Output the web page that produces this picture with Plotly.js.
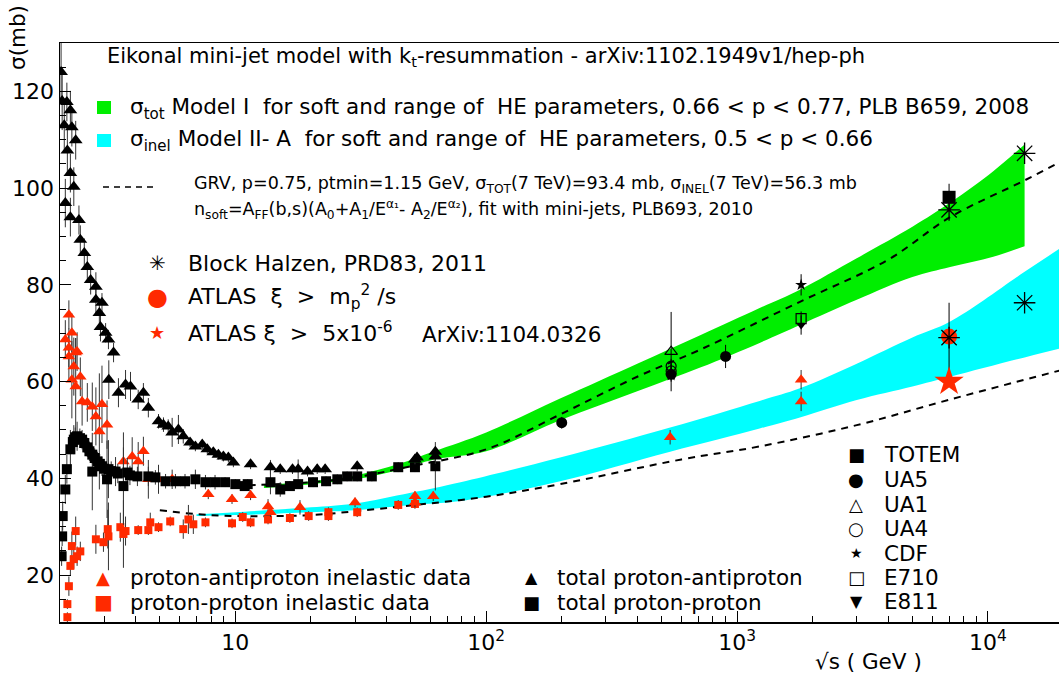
<!DOCTYPE html>
<html>
<head>
<meta charset="utf-8">
<script src="https://cdn.plot.ly/plotly-3.0.1.min.js"></script>
<style>html,body{margin:0;padding:0;background:#fff;}#chart{width:1059px;height:675px;}</style>
</head>
<body>
<div id="chart"></div>
<script>
// ---------- data (sqrt(s) in GeV, sigma in mb) ----------
// model bands
const greenX     = [13, 20, 30, 45, 62, 100, 197, 400, 713, 1230, 1780, 3000, 5000, 7070, 10500, 14000];
const greenLow   = [38.0, 38.8, 39.8, 41.8, 43.9, 45.6, 52.0, 58.0, 62.9, 68.0, 71.7, 76.9, 81.6, 83.7, 85.8, 88.0];
const greenHigh  = [38.6, 39.4, 40.6, 43.0, 45.6, 49.5, 56.5, 63.7, 69.6, 75.2, 79.0, 85.5, 92.0, 97.0, 103.5, 109.0];
const cyanX      = [7, 10, 20, 30, 50, 79, 197, 541, 1230, 1780, 3000, 5000, 7070, 14000, 20000];
const cyanLow    = [32.2, 32.4, 33.0, 33.4, 34.5, 35.3, 39.4, 45.5, 50.3, 52.6, 56.2, 59.0, 61.0, 65.0, 67.0];
const cyanHigh   = [32.6, 33.0, 34.0, 34.8, 37.0, 39.2, 44.3, 50.5, 56.0, 58.6, 63.7, 69.1, 72.4, 82.7, 88.0];
// GRV curves
const grvTotX    = [10, 20, 30, 50, 100, 197, 400, 713, 1780, 4000, 7070, 14000, 20000];
const grvTotY    = [38.5, 39.2, 40.2, 42.5, 46.0, 53.2, 61.0, 66.6, 76.5, 85.2, 94.0, 101.6, 105.8];
const grvInelX   = [5, 7, 10, 20, 30, 50, 100, 197, 600, 1230, 3000, 7070, 20000];
const grvInelY   = [33.4, 32.6, 32.2, 32.4, 33.2, 34.4, 36.2, 38.8, 43.9, 46.6, 51.0, 56.3, 62.5];

// [sqrt(s), sigma, error]
const pbarTotal = [
 [2.02,124,6],[2.04,118,6],[2.08,113,5],[2.1,96.9,5],[2.13,117.8,4],[2.14,107.8,5],[2.2,116.1,4],
 [2.2,103.1,4],[2.2,94.0,4],[2.23,112.6,4],[2.27,100.3,4],[2.31,109.9,4],[2.38,93.4,3],[2.41,89.3,3],
 [2.5,86.6,3],[2.57,83.7,3],[2.65,81.0,3],[2.78,79.6,3],[2.78,76.9,3],[2.87,74.2,3],[2.9,71.3,3],
 [2.94,76.3,2],[3.04,70.1,2],[3.12,68.7,2],[3.13,60.4,4],[3.27,66.0,2],[3.42,57.7,3],[3.65,59.4,3],
 [3.82,59.0,3],[4.1,56.3,2],[4.3,57.7,2],[4.5,54.6,2],[4.94,51.8,1.5],[5.17,51.1,1.5],[5.4,50.7,1.5],
 [5.6,49.5,3],[5.93,50.1,3],[6.2,48.7,1.5],[6.6,47.4,1],[6.93,46.6,1],[7.38,47.0,1],[7.73,46.0,1],
 [8.17,45.4,1],[8.56,44.9,1],[8.96,44.5,1],[9.38,44.3,1],[9.82,43.3,1],[11.5,42.9,1],[13.8,42.3,1.5],
 [15.1,41.9,1],[16.9,41.9,1],[17.8,41.9,2],[19.4,41.4,1],[21.2,41.9,1],[22.8,41.9,1],[30.6,42.5,1],
 [52,43.9,1],[53,44.3,1],[62.7,44.5,1.5],[62.7,45.5,1]
];
const ppTotal = [
 [2.03,23.9,2],[2.04,28.0,2],[2.05,32.2,3],[2.1,37.7,3],[2.13,41.9,3],[2.2,46.0,4],[2.25,47.5,2],
 [2.27,48.0,3],[2.3,48.5,2],[2.34,48.7,3],[2.4,48.3,2],[2.45,48.0,2],[2.5,47.3,2],[2.57,46.4,2],
 [2.62,45.6,2],[2.69,44.9,2],[2.75,44.2,2],[2.82,43.5,2],[2.88,43.0,2],[2.94,42.5,2],[3.0,42.0,2],
 [2.69,41.4,8],[3.12,41.9,6],[3.08,39.8,8],[3.2,41.5,2],[3.33,41.4,3],[3.4,41.0,2],[3.58,38.4,8],
 [3.71,41.2,3],[3.8,40.6,2],[4.07,40.4,2],[4.5,40.4,2],[4.8,40.2,1.5],[5.27,39.4,1.5],[5.77,39.4,1.5],
 [6.3,39.4,1.5],[6.93,39.8,2],[7.6,39.2,1.5],[8.3,39.2,1.5],[9.1,39.2,1],[10,38.8,1],[10.9,38.4,1],
 [11.2,38.8,1],[13.8,39.2,2.5],[15.1,37.7,1.5],[16.5,38.4,1],[17.8,38.8,1],[20.4,39.2,1],[23,39.4,1],
 [25.5,39.8,1],[27.9,40.4,1],[30.6,40.4,1],[35,40.4,1],[44.6,42.3,1],[52,42.3,1],[62.7,42.5,5]
];
const pbarInel = [
 [2.17,73.8,3],[2.1,68.7,4],[2.23,70.1,4],[2.17,67.0,4],[2.34,66.2,4],[2.31,66.0,3],[2.17,65.2,5],
 [2.27,63.1,6],[2.23,60.4,8],[2.41,61.0,4],[2.31,59.0,10],[2.45,55.9,5],[2.57,55.7,4],[2.69,54.8,5],
 [2.78,52.8,6],[2.94,55.3,8],[3.08,51.1,5],[2.87,49.7,12],[3.58,43.5,6],[3.88,44.5,4],[4.1,43.5,4],
 [4.3,45.6,3],[4.5,39.8,4],[4.94,39.8,3],[5.6,39.8,2],[7.8,36.7,1],[9.7,35.7,1],[11.5,36.5,1],
 [13.5,34.2,1.5],[13.8,33.0,1],[18.1,34.0,1.5],[30,35.0,1],[52,36.3,1],[52,35.0,1],[61.5,36.3,1],
 [541,48.5,1.5],[1800,60.4,2],[1800,55.9,2]
];
const ppInel = [
 [2.14,11.3,1],[2.14,14.0,1],[2.17,17.7,2],[2.2,21.9,2],[2.23,26.0,3],[2.31,29.1,3],[2.27,23.3,2],
 [2.34,23.9,2],[2.41,24.9,2],[2.78,27.4,3],[2.98,26.8,2],[3.1,29.5,4],[3.12,28.0,7],[3.48,29.9,3],
 [3.58,28.5,7],[3.65,29.1,3],[4.1,29.3,1],[4.5,29.3,1],[4.58,30.9,2],[4.94,29.9,1],[5.5,31.1,1],
 [6.2,29.5,2],[6.5,31.5,3],[6.8,30.5,2],[7.6,30.9,1],[9.7,30.7,1],[10.7,32.0,1],[11.5,30.9,1],
 [13.5,31.5,1],[16.5,31.8,1],[19.6,32.2,1],[23.5,33.0,1],[23.5,32.2,1],[30.6,33.0,1],[44.6,34.5,1],
 [52,34.7,1]
];
// individual experiments
const totem   = [[7000, 98.1, 2.8]];
const ua5     = [[200, 51.5, 1.2], [546, 61.5, 1.5], [900, 65.2, 2.4]];
const ua1     = [[546, 66.2, 8.2]];
const ua4     = [[546, 63.2, 1.5], [546, 62.2, 1.5]];
const cdf     = [[546, 61.3, 0.9], [1800, 80.0, 2.2]];
const e710    = [[1800, 73.0, 1.5]];
const e811    = [[1800, 71.7, 2.0]];
const blockHalzen = [[7000, 95.5], [14000, 107.2], [7000, 69.1], [14000, 76.3]];
const atlasMp = [[7000, 69.3, 7.0]];
const atlas5e6 = [[7000, 60.0, 1.0]];

// tick labels
const xTickVals = [10, 100, 1000, 10000];
const xTickText = ['10', '10<sup>2</sup>', '10<sup>3</sup>', '10<sup>4</sup>'];
const yTickVals = [20, 40, 60, 80, 100, 120];

// ---------- build ----------
const RED = '#ff2a00';
const FONT = 'DejaVu Sans, Liberation Sans, Arial, sans-serif';
const col = (a, i) => a.map(r => r[i]);

function pts(data, symbol, color, size, errColor, lw) {
  const t = {
    x: col(data, 0), y: col(data, 1), type: 'scatter', mode: 'markers', showlegend: false,
    marker: {symbol: symbol, color: color, size: size, line: {color: color, width: lw || 0}},
    hoverinfo: 'x+y'
  };
  if (data[0].length > 2) {
    t.error_y = {type: 'data', array: col(data, 2), visible: true, color: errColor || '#222', thickness: 1, width: 0};
  }
  return t;
}

const traces = [
  {x: greenX, y: greenLow, mode: 'lines', line: {width: 0, color: '#00ee00', shape: 'spline'}, showlegend: false, hoverinfo: 'skip'},
  {x: greenX, y: greenHigh, mode: 'lines', line: {width: 0, color: '#00ee00', shape: 'spline'}, fill: 'tonexty', fillcolor: '#00ee00', showlegend: false, hoverinfo: 'skip'},
  {x: cyanX, y: cyanLow, mode: 'lines', line: {width: 0, color: '#00ffff', shape: 'spline'}, showlegend: false, hoverinfo: 'skip'},
  {x: cyanX, y: cyanHigh, mode: 'lines', line: {width: 0, color: '#00ffff', shape: 'spline'}, fill: 'tonexty', fillcolor: '#00ffff', showlegend: false, hoverinfo: 'skip'},
  {x: grvTotX, y: grvTotY, mode: 'lines', line: {color: '#000', width: 2, dash: '7px,6px', shape: 'spline'}, showlegend: false},
  {x: grvInelX, y: grvInelY, mode: 'lines', line: {color: '#000', width: 2, dash: '7px,6px', shape: 'spline'}, showlegend: false},
  pts(ppInel, 'square', RED, 8, '#333'),
  pts(pbarInel, 'triangle-up', RED, 11, '#333'),
  pts(ppTotal, 'square', '#000', 10, '#333'),
  pts(pbarTotal, 'triangle-up', '#000', 12, '#333'),
  pts(e811, 'triangle-down', '#000', 9, '#000'),
  pts(e710, 'square-open', '#000', 10, '#000', 1.2),
  pts(cdf, 'star', '#000', 9, '#000'),
  pts(ua4, 'circle-open', '#000', 10, '#000', 1.2),
  pts(ua1, 'triangle-up-open', '#000', 11, '#000', 1.2),
  pts(ua5, 'circle', '#000', 11, '#000'),
  pts(totem, 'square', '#000', 13, '#000'),
  pts(atlasMp, 'circle', RED, 16, '#000'),
  pts(atlas5e6, 'star', RED, 22, '#000'),
  pts(blockHalzen, 'asterisk-open', '#000', 18, null, 1.3)
];

// pixel -> paper helpers (plot area: left 60, top 43, width 999, height 579)
const PX = p => (p - 60) / 999;
const PY = p => (622 - p) / 579;
function ann(px, py, text, size, opts) {
  return Object.assign({xref: 'paper', yref: 'paper', x: PX(px), y: PY(py), text: text, showarrow: false,
    xanchor: 'left', yanchor: 'middle', font: {family: FONT, size: size, color: '#000'}}, opts || {});
}
function glyph(px, py, ch, size, color) {
  return ann(px, py, ch, size, {xanchor: 'center', font: {family: 'DejaVu Sans', size: size, color: color}});
}
const NB = '\u00a0';
const BIG = 21.5;
const annotations = [
  ann(105, 57, 'Eikonal mini-jet model with k<sub>t</sub>-resummation - arXiv:1102.1949v1/hep-ph', 21),
  ann(128, 108, 'σ<sub>tot</sub> Model I' + NB + ' for soft and range of' + NB + ' HE parameters, 0.66 < p < 0.77, PLB B659, 2008', BIG),
  ann(128, 140, 'σ<sub>inel</sub> Model II- A' + NB + ' for soft and range of' + NB + ' HE parameters, 0.5 < p < 0.66', BIG),
  ann(192, 185, 'GRV, p=0.75, ptmin=1.15 GeV, σ<sub>TOT</sub>(7 TeV)=93.4 mb, σ<sub>INEL</sub>(7 TeV)=56.3 mb', 17.5),
  ann(192, 209, 'n<sub>soft</sub>=A<sub>FF</sub>(b,s)(A<sub>0</sub>+A<sub>1</sub>/E<sup>α₁</sup>- A<sub>2</sub>/E<sup>α₂</sup>), fit with mini-jets, PLB693, 2010', 17.5),
  glyph(157, 263, '✳', 20, '#000'),
  ann(186, 263, 'Block Halzen, PRD83, 2011', 22),
  glyph(157, 297, '●', 24, RED),
  ann(186, 297, 'ATLAS' + NB + NB + 'ξ' + NB + NB + '>' + NB + NB + 'm<sub>p</sub><sup>2</sup> /s', 22),
  glyph(157, 332, '★', 18, RED),
  ann(186, 332, 'ATLAS ξ' + NB + NB + '>' + NB + NB + '5x10<sup>-6</sup>', 22),
  ann(420, 334, 'ArXiv:1104.0326', BIG),
  glyph(103, 577, '▲', 18, RED),
  ann(128, 577, 'proton-antiproton inelastic data', BIG),
  glyph(103, 602, '■', 20, RED),
  ann(128, 602, 'proton-proton inelastic data', BIG),
  glyph(531, 577, '▲', 16, '#000'),
  ann(555, 577, 'total proton-antiproton', BIG),
  glyph(531, 602, '■', 18, '#000'),
  ann(555, 602, 'total proton-proton', BIG),
  glyph(856, 455, '■', 18, '#000'),
  ann(882, 455, 'TOTEM', BIG),
  glyph(856, 480, '●', 18, '#000'),
  ann(882, 480, 'UA5', BIG),
  glyph(856, 504, '△', 18, '#000'),
  ann(882, 504, 'UA1', BIG),
  glyph(856, 528, '○', 18, '#000'),
  ann(882, 528, 'UA4', BIG),
  glyph(856, 553, '★', 14, '#000'),
  ann(882, 553, 'CDF', BIG),
  glyph(856, 577, '□', 18, '#000'),
  ann(882, 577, 'E710', BIG),
  glyph(856, 601, '▼', 16, '#000'),
  ann(882, 601, 'E811', BIG),
  ann(868, 661, '√s ( GeV )', BIG, {xanchor: 'center'}),
  ann(17, 38, 'σ(mb)', BIG, {xanchor: 'center', textangle: -90})
];

const shapes = [
  {type: 'rect', xref: 'paper', yref: 'paper', x0: PX(97), x1: PX(111), y0: PY(114), y1: PY(101), fillcolor: '#00ee00', line: {width: 0}},
  {type: 'rect', xref: 'paper', yref: 'paper', x0: PX(97), x1: PX(111), y0: PY(147), y1: PY(134), fillcolor: '#00ffff', line: {width: 0}},
  {type: 'line', xref: 'paper', yref: 'paper', x0: PX(103), x1: PX(158), y0: PY(187), y1: PY(187), line: {color: '#000', width: 1.5, dash: '6px,5px'}}
];

const minorX = [];
[1, 10, 100, 1000, 10000].forEach(d => { for (let k = 2; k <= 9; k++) minorX.push(k * d); });

const layout = {
  width: 1059, height: 675,
  margin: {l: 60, r: 0, t: 43, b: 53},
  paper_bgcolor: '#fff', plot_bgcolor: '#fff',
  font: {family: FONT, size: 20, color: '#000'},
  showlegend: false,
  xaxis: {
    type: 'log', range: [Math.log10(2.0), Math.log10(19200)],
    showline: true, linecolor: '#000', linewidth: 1.5, mirror: true,
    ticks: 'inside', ticklen: 11, tickwidth: 1, tickcolor: '#000',
    tickmode: 'array', tickvals: xTickVals, ticktext: xTickText,
    tickfont: {family: FONT, size: 22},
    minor: {tickmode: 'array', tickvals: minorX, ticks: 'inside', ticklen: 6, tickcolor: '#000', showgrid: false},
    showgrid: false, zeroline: false
  },
  yaxis: {
    range: [10.3, 130],
    showline: true, linecolor: '#000', linewidth: 1.5, mirror: true,
    ticks: 'inside', ticklen: 11, tickwidth: 1, tickcolor: '#000',
    tickmode: 'array', tickvals: yTickVals,
    tickfont: {family: FONT, size: 22},
    minor: {dtick: 5, ticks: 'inside', ticklen: 6, tickcolor: '#000', showgrid: false},
    showgrid: false, zeroline: false
  },
  annotations: annotations,
  shapes: shapes
};

Plotly.newPlot('chart', traces, layout, {displayModeBar: false, staticPlot: true});
</script>
</body>
</html>
